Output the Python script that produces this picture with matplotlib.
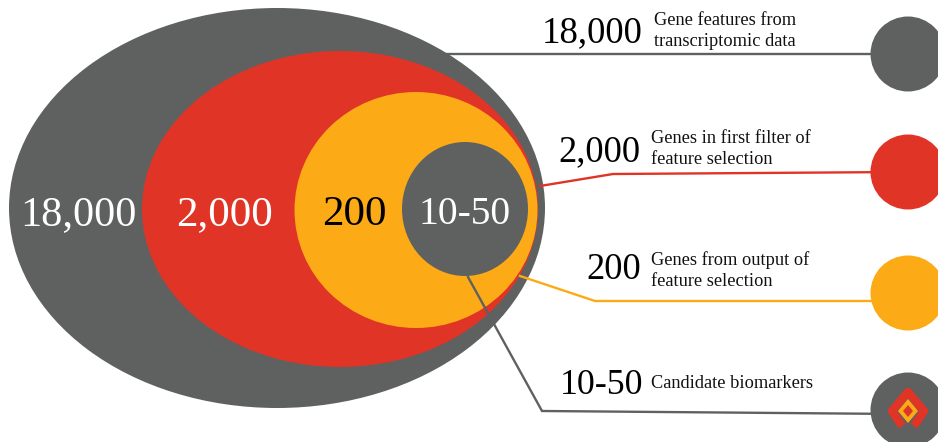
import matplotlib
matplotlib.use("Agg")
import matplotlib.pyplot as plt
from matplotlib.patches import Ellipse, Polygon

plt.rcParams['font.family'] = ['Liberation Serif', 'DejaVu Sans']

counts = ["18,000", "2,000", "200", "10-50"]
descriptions = ["Gene features from\ntranscriptomic data",
                "Genes in first filter of\nfeature selection",
                "Genes from output of\nfeature selection",
                "Candidate biomarkers"]
GRAY, RED, ORANGE = "#5f6160", "#e03426", "#fcab17"
colors = [GRAY, RED, ORANGE, GRAY]
line_colors = [GRAY, RED, ORANGE, GRAY]
inner_text_colors = ["white", "white", "black", "white"]

ellipses = [(277, 208, 536, 400), (340, 209, 396, 316), (416, 210, 243, 236), (465, 209, 126, 134)]
inner_x = [78, 224, 354, 465]
inner_y = [215, 215, 215, 215]
inner_size = [30.5, 31, 31, 28.5]
num_right = [643, 641, 641, 643]
num_y = [33, 152, 270, 385]
num_size = [26.5, 26.3, 26.3, 25.8]
desc_x = [654, 651, 651, 651]
desc_y = [31, 149, 271, 383]
circle_y = [54, 172, 293, 410]
leaders = [[(444, 54), (900, 54)],
           [(540, 186), (613, 174), (900, 172)],
           [(520, 276), (595, 301), (900, 301)],
           [(468, 277), (542, 411), (900, 414)]]

fig = plt.figure(figsize=(9.38, 4.42), dpi=100)
ax = fig.add_axes([0, 0, 1, 1])
ax.set_xlim(0, 938)
ax.set_ylim(442, 0)
ax.axis("off")

for (cx, cy, w, h), c in zip(ellipses, colors):
    ax.add_patch(Ellipse((cx, cy), w, h, fc=c, ec="none", zorder=2))
for pts, c in zip(leaders, line_colors):
    xs, ys = zip(*pts)
    ax.plot(xs, ys, color=c, lw=1.7, zorder=3, solid_joinstyle="miter")
for y, c in zip(circle_y, colors):
    ax.add_patch(Ellipse((908, y), 75, 75, fc=c, ec="none", zorder=4))

# small logo in the last circle
ax.plot([902, 892, 908, 924, 914], [426, 411, 392, 411, 426], color=RED, lw=6,
        solid_joinstyle="round", solid_capstyle="butt", zorder=5)
ax.add_patch(Polygon([(908, 399), (918, 411), (908, 423), (898, 411)],
                     closed=True, fc=ORANGE, ec="none", zorder=7))
ax.add_patch(Polygon([(908, 405), (913, 411), (908, 417), (903, 411)],
                     closed=True, fc=RED, ec="none", zorder=8))

for t, x, y, c, s in zip(counts, inner_x, inner_y, inner_text_colors, inner_size):
    ax.text(x, y, t, color=c, fontsize=s, ha="center", va="center", zorder=9)
for t, x, y, s in zip(counts, num_right, num_y, num_size):
    ax.text(x, y, t, color="black", fontsize=s, ha="right", va="center", zorder=9)
for t, x, y in zip(descriptions, desc_x, desc_y):
    ax.text(x, y, t, color="#111111", fontsize=13.2, ha="left", va="center",
            linespacing=1.3, zorder=9)

fig.savefig("out.png", dpi=100)
